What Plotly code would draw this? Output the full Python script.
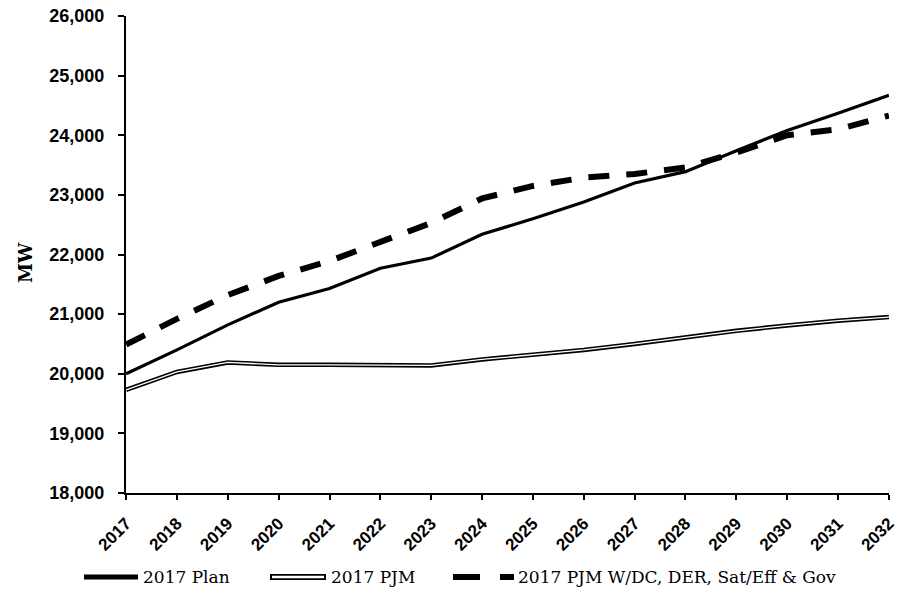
import plotly.graph_objects as go

years = list(range(2017, 2033))
plan_2017 = [20000, 20400, 20820, 21200, 21430, 21770, 21940, 22340, 22600, 22880, 23200, 23390, 23740, 24080, 24370, 24670]
pjm_2017 = [19730, 20030, 20190, 20150, 20150, 20150, 20140, 20240, 20320, 20400, 20500, 20610, 20720, 20810, 20890, 20950]
pjm_adj_2017 = [20490, 20920, 21320, 21640, 21890, 22210, 22530, 22940, 23150, 23290, 23350, 23460, 23710, 24000, 24100, 24330]

series_names = ["2017 Plan", "2017 PJM", "2017 PJM W/DC, DER, Sat/Eff & Gov"]
y_ticks = list(range(18000, 26001, 1000))

W, H = 900, 601
ML, MR, MT, MB = 126, 11, 16, 108
PW, PH = W - ML - MR, H - MT - MB


def px(x):
    return (x - ML) / PW


def py(y):
    return (H - MB - y) / PH


fig = go.Figure()

# Plan forecast: solid black
fig.add_trace(go.Scatter(x=years, y=plan_2017, mode="lines", name=series_names[0],
                         line=dict(color="black", width=3.2), showlegend=False))
# PJM forecast: double line (black outline with white core)
fig.add_trace(go.Scatter(x=years, y=pjm_2017, mode="lines", name=series_names[1],
                         line=dict(color="black", width=4.5), showlegend=False))
fig.add_trace(go.Scatter(x=years, y=pjm_2017, mode="lines", name=series_names[1],
                         line=dict(color="white", width=1.3), showlegend=False))
# Adjusted PJM forecast: heavy dashes
fig.add_trace(go.Scatter(x=years, y=pjm_adj_2017, mode="lines", name=series_names[2],
                         line=dict(color="black", width=6, dash="21px,17px"), showlegend=False))

# Legend drawn below the plot
ly = 577
shapes = [
    dict(type="line", xref="paper", yref="paper", x0=px(84), x1=px(138), y0=py(ly), y1=py(ly),
         line=dict(color="black", width=5)),
    dict(type="line", xref="paper", yref="paper", x0=px(270), x1=px(326), y0=py(ly), y1=py(ly),
         line=dict(color="black", width=6)),
    dict(type="line", xref="paper", yref="paper", x0=px(272), x1=px(324), y0=py(ly), y1=py(ly),
         line=dict(color="white", width=2.5)),
    dict(type="line", xref="paper", yref="paper", x0=px(453), x1=px(514), y0=py(ly), y1=py(ly),
         line=dict(color="black", width=6, dash="27px,20px")),
]
legend_font = dict(family="DejaVu Serif", size=17, color="black")
annotations = [
    dict(xref="paper", yref="paper", x=px(141), y=py(ly), text=series_names[0], showarrow=False,
         xanchor="left", yanchor="middle", font=legend_font),
    dict(xref="paper", yref="paper", x=px(329), y=py(ly), text=series_names[1], showarrow=False,
         xanchor="left", yanchor="middle", font=legend_font),
    dict(xref="paper", yref="paper", x=px(516), y=py(ly), text=series_names[2], showarrow=False,
         xanchor="left", yanchor="middle", font=legend_font),
    dict(xref="paper", yref="paper", x=px(25), y=py(263), text="<b>MW</b>", showarrow=False,
         textangle=-90, xanchor="center", yanchor="middle",
         font=dict(family="DejaVu Serif", size=18, color="black")),
]

tick_font = dict(family="Liberation Sans", size=18, color="black", weight="bold")
xtick_font = dict(family="Liberation Sans", size=17, color="black", weight="bold")

fig.update_layout(
    width=W, height=H,
    margin=dict(l=ML, r=MR, t=MT, b=MB),
    paper_bgcolor="white", plot_bgcolor="white",
    shapes=shapes, annotations=annotations,
    showlegend=False,
    xaxis=dict(range=[2017 - 0.002, 2032 + 0.002], tickvals=years, ticktext=[str(y) for y in years],
               tickangle=-45, ticks="outside", ticklen=5, tickwidth=1.5, tickcolor="black",
               showline=True, linecolor="black", linewidth=2, showgrid=False, zeroline=False,
               tickfont=xtick_font, automargin=False, ticklabeloverflow="allow",
               ticklabelstandoff=7),
    yaxis=dict(range=[18000, 26000], tickvals=y_ticks, tickformat=",d",
               ticks="outside", ticklen=6, tickwidth=1.5, tickcolor="black",
               showline=True, linecolor="black", linewidth=2, showgrid=False, zeroline=False,
               tickfont=tick_font, ticklabelstandoff=10, automargin=False,
               ticklabeloverflow="allow"),
)

fig.write_html("out.html")
